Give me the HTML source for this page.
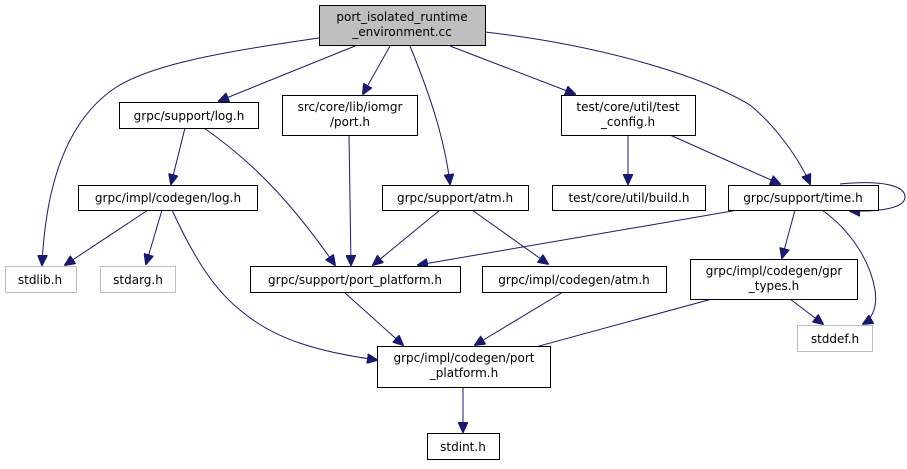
<!DOCTYPE html>
<html><head><style>
html,body{margin:0;padding:0;background:#fff;}
svg{display:block;}
text{font-family:"DejaVu Sans","Liberation Sans",sans-serif;font-size:12px;fill:#000;text-anchor:middle;}
.n{fill:#fff;stroke:#000;stroke-width:1;}
.g{fill:#fff;stroke:#bfbfbf;stroke-width:1;}
.e{fill:none;stroke:#191970;stroke-width:1;}
</style></head><body>
<svg width="907" height="469" viewBox="0 0 907 469" xmlns="http://www.w3.org/2000/svg">
<defs><marker id="a" markerWidth="11" markerHeight="10" refX="10" refY="5" orient="auto" markerUnits="userSpaceOnUse"><path d="M0,0 L11,5 L0,10 z" fill="#191970" stroke="#191970"/></marker></defs>
<g class="e" marker-end="url(#a)">
<path d="M319,38 C220,52 150,65 115,88 C60,125 45,200 42,265"/>
<path d="M355,46 L219,101"/>
<path d="M390,46 L363,94"/>
<path d="M410,46 C430,95 445,140 450,184"/>
<path d="M450,46 L575,94"/>
<path d="M485,32 C600,45 700,75 750,105 C775,125 800,160 810,184"/>
<path d="M185,128 L171,184"/>
<path d="M204,128 C250,160 290,200 335,265"/>
<path d="M349,135 L351,265"/>
<path d="M148,210 L65,265"/>
<path d="M162,210 L146,264"/>
<path d="M172,210 C195,260 215,290 240,310 C275,340 320,352 377,360"/>
<path d="M628,135 L628,184"/>
<path d="M670,135 L780,184"/>
<path d="M440,210 L373,265"/>
<path d="M472,210 L548,264"/>
<path d="M738,210 L418,265"/>
<path d="M795,210 L782,258"/>
<path d="M822,210 C850,230 870,260 875,290 C878,310 870,320 863,324"/>
<path d="M840,184 C880,180 905,185 905,197 C905,208 880,212 850,211"/>
<path d="M344,292 L403,345"/>
<path d="M563,292 L475,345"/>
<path d="M712,299 L506,355"/>
<path d="M790,299 L823,324"/>
<path d="M463,387 L463,432"/>
</g>
<rect x="319.5" y="5.5" width="166" height="40" fill="#bfbfbf" stroke="#000"/>
<text x="402" y="21">port_isolated_runtime</text><text x="402" y="36">_environment.cc</text>
<rect class="n" x="119.5" y="102.5" width="139" height="26"/><text x="189" y="120">grpc/support/log.h</text>
<rect class="n" x="282.5" y="95.5" width="135" height="40"/><text x="350" y="111">src/core/lib/iomgr</text><text x="350" y="126">/port.h</text>
<rect class="n" x="561.5" y="95.5" width="134" height="40"/><text x="628" y="111">test/core/util/test</text><text x="628" y="126">_config.h</text>
<rect class="n" x="78.5" y="185.5" width="179" height="25"/><text x="168" y="202">grpc/impl/codegen/log.h</text>
<rect class="n" x="382.5" y="185.5" width="146" height="25"/><text x="455" y="202">grpc/support/atm.h</text>
<rect class="n" x="552.5" y="185.5" width="153" height="25"/><text x="629" y="202">test/core/util/build.h</text>
<rect class="n" x="728.5" y="185.5" width="150" height="25"/><text x="803" y="202">grpc/support/time.h</text>
<rect class="g" x="5.5" y="266.5" width="71" height="26"/><text x="40" y="284">stdlib.h</text>
<rect class="g" x="100.5" y="266.5" width="75" height="26"/><text x="138" y="284">stdarg.h</text>
<rect class="n" x="250.5" y="266.5" width="210" height="26"/><text x="355" y="284">grpc/support/port_platform.h</text>
<rect class="n" x="482.5" y="266.5" width="184" height="26"/><text x="574" y="284">grpc/impl/codegen/atm.h</text>
<rect class="n" x="690.5" y="259.5" width="167" height="40"/><text x="774" y="275">grpc/impl/codegen/gpr</text><text x="774" y="290">_types.h</text>
<rect class="g" x="797.5" y="325.5" width="75" height="26"/><text x="835" y="343">stddef.h</text>
<rect class="n" x="377.5" y="346.5" width="173" height="41"/><text x="464" y="362">grpc/impl/codegen/port</text><text x="464" y="377">_platform.h</text>
<rect class="n" x="427.5" y="433.5" width="72" height="26"/><text x="463" y="451">stdint.h</text>
</svg>
</body></html>
